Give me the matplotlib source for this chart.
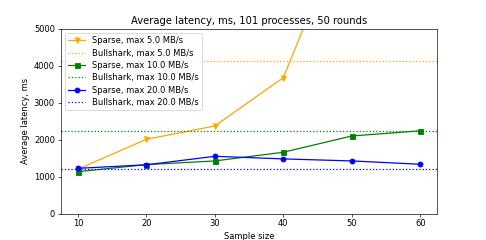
import matplotlib
matplotlib.use('Agg')
import matplotlib.pyplot as plt

# Data
sample_sizes = [10, 20, 30, 40, 50, 60]
bandwidths = [5.0, 10.0, 20.0]
sparse_5 = [1200, 2010, 2370, 3680, 8200, 12000]
sparse_10 = [1135, 1325, 1425, 1660, 2100, 2240]
sparse_20 = [1225, 1320, 1550, 1480, 1425, 1335]
bullshark = [4120, 2225, 1200]

colors = ['orange', 'green', 'blue']
markers = ['v', 's', 'o']


def main():
    fig, ax = plt.subplots(figsize=(8.1, 4.0), dpi=60)

    sparse = [sparse_5, sparse_10, sparse_20]
    for bw, values, bull, color, marker in zip(bandwidths, sparse, bullshark, colors, markers):
        ax.plot(sample_sizes, values, color=color, marker=marker,
                label='Sparse, max {} MB/s'.format(bw))
        ax.axhline(bull, color=color, linestyle=':',
                   label='Bullshark, max {} MB/s'.format(bw))

    ax.set_ylim(0, 5000)
    ax.set_xlabel('Sample size')
    ax.set_ylabel('Average latency, ms')
    ax.set_title('Average latency, ms, 101 processes, 50 rounds')
    ax.legend(loc='upper left', labelspacing=0.4)

    fig.savefig('out.png', dpi=60)


if __name__ == "__main__":
    main()
